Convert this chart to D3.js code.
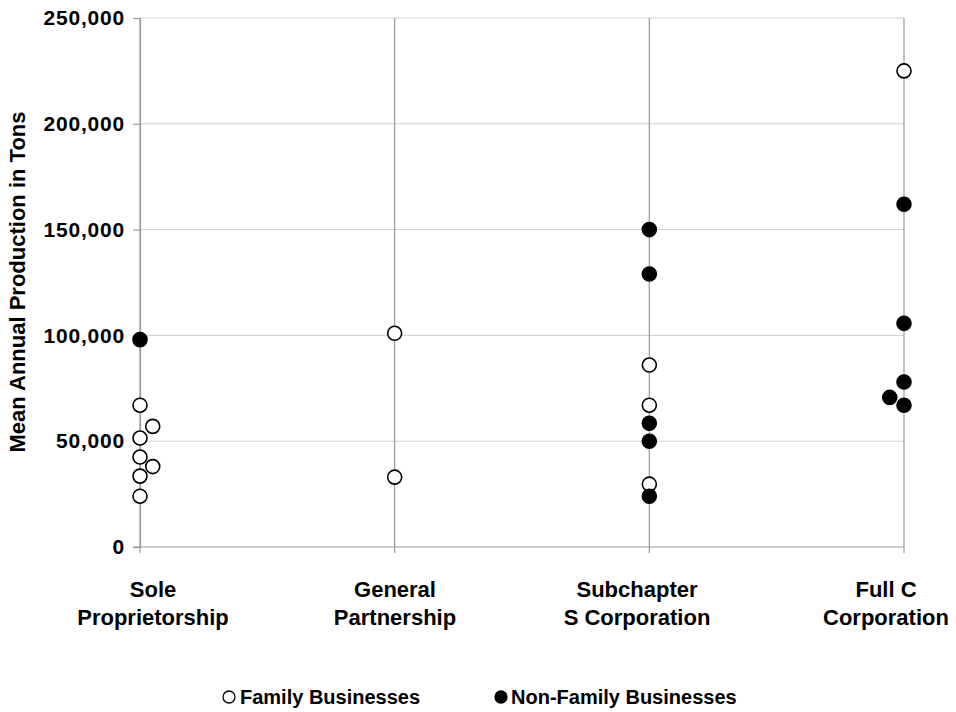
<!DOCTYPE html>
<html>
<head>
<meta charset="utf-8">
<script src="https://cdn.jsdelivr.net/npm/d3@7"></script>
<style>
  html, body { margin: 0; padding: 0; background: #fff; }
  text { font-family: Arial, "Liberation Sans", sans-serif; font-weight: bold; fill: #000; }
</style>
</head>
<body>
<svg id="chart" width="956" height="712"></svg>
<script>
// Category positions are 1..4 on a numeric x axis (XY scatter)
const categories = [["Sole", "Proprietorship"], ["General", "Partnership"], ["Subchapter", "S Corporation"], ["Full C", "Corporation"]];
const yTicks = [0, 50000, 100000, 150000, 200000, 250000];

// Family businesses (open circles)
const familyX = [1, 1.05, 1, 1, 1.05, 1, 1, 2, 2, 3, 3, 3, 4];
const familyY = [67000, 57000, 51500, 42500, 38000, 33500, 24000, 101000, 33000, 86000, 67000, 29700, 225000];

// Non-family businesses (filled circles)
const nonFamilyX = [1, 3, 3, 3, 3, 3, 4, 4, 4, 3.944, 4];
const nonFamilyY = [98000, 150000, 129000, 58500, 50000, 24000, 162000, 105700, 78000, 70700, 67000];

const legendLabels = ["Family Businesses", "Non-Family Businesses"];

const svg = d3.select("#chart");
const x = d3.scaleLinear().domain([1, 4]).range([140, 904]);
const y = d3.scaleLinear().domain([0, 250000]).range([547, 18]);

// horizontal gridlines
svg.append("g").selectAll("line").data(yTicks.filter(d => d > 0)).join("line")
  .attr("x1", x(1)).attr("x2", x(4))
  .attr("y1", d => y(d)).attr("y2", d => y(d))
  .attr("stroke", "#d0d0d0").attr("stroke-width", 1);

// vertical lines at categories
svg.append("g").selectAll("line").data([1, 2, 3, 4]).join("line")
  .attr("x1", d => x(d)).attr("x2", d => x(d))
  .attr("y1", y(250000)).attr("y2", y(0) + 6)
  .attr("stroke", "#999").attr("stroke-width", 1.2);

// y axis
const yAxis = d3.axisLeft(y).tickValues(yTicks).tickSize(7).tickPadding(8)
  .tickFormat(d3.format(","));
const gy = svg.append("g").attr("transform", `translate(${x(1)},0)`).call(yAxis);
gy.select(".domain").attr("stroke", "#999").attr("stroke-width", 1.2);
gy.selectAll(".tick line").attr("stroke", "#999").attr("stroke-width", 1.2);
gy.selectAll(".tick text").style("font-size", "21px").style("font-weight", "bold")
  .style("letter-spacing", "0.8px")
  .style("font-family", "Arial, 'Liberation Sans', sans-serif").attr("fill", "#000");

// x axis baseline
svg.append("line").attr("x1", x(1) - 7).attr("x2", x(4)).attr("y1", y(0)).attr("y2", y(0))
  .attr("stroke", "#999").attr("stroke-width", 1.2);

// x category labels (centered slightly offset as in the original layout)
const labelCenters = [153, 395, 637, 886];
const xl = svg.append("g").selectAll("text").data(categories).join("text")
  .attr("x", (d, i) => labelCenters[i]).attr("y", 597)
  .attr("text-anchor", "middle").style("font-size", "22px");
xl.each(function(d) {
  const t = d3.select(this);
  d.forEach((line, j) => t.append("tspan").attr("x", t.attr("x")).attr("dy", j === 0 ? 0 : 28).text(line));
});

// y title
svg.append("text").attr("transform", `translate(25,282) rotate(-90)`)
  .attr("text-anchor", "middle").style("font-size", "22px")
  .text("Mean Annual Production in Tons");

// points
const r = 7;
svg.append("g").selectAll("circle").data(familyX.map((d, i) => [d, familyY[i]])).join("circle")
  .attr("cx", d => x(d[0])).attr("cy", d => y(d[1])).attr("r", r)
  .attr("fill", "#fff").attr("stroke", "#000").attr("stroke-width", 1.6);
svg.append("g").selectAll("circle").data(nonFamilyX.map((d, i) => [d, nonFamilyY[i]])).join("circle")
  .attr("cx", d => x(d[0])).attr("cy", d => y(d[1])).attr("r", r)
  .attr("fill", "#000").attr("stroke", "#000").attr("stroke-width", 1.6);

// legend
const lg = svg.append("g");
const legendPos = [229, 501];
const legendText = [240, 511];
legendLabels.forEach((lab, i) => {
  lg.append("circle").attr("cx", legendPos[i]).attr("cy", 697).attr("r", 6)
    .attr("fill", i === 0 ? "#fff" : "#000").attr("stroke", "#000").attr("stroke-width", 1.3);
  lg.append("text").attr("x", legendText[i]).attr("y", 704).style("font-size", "20px").text(lab);
});
</script>
</body>
</html>
